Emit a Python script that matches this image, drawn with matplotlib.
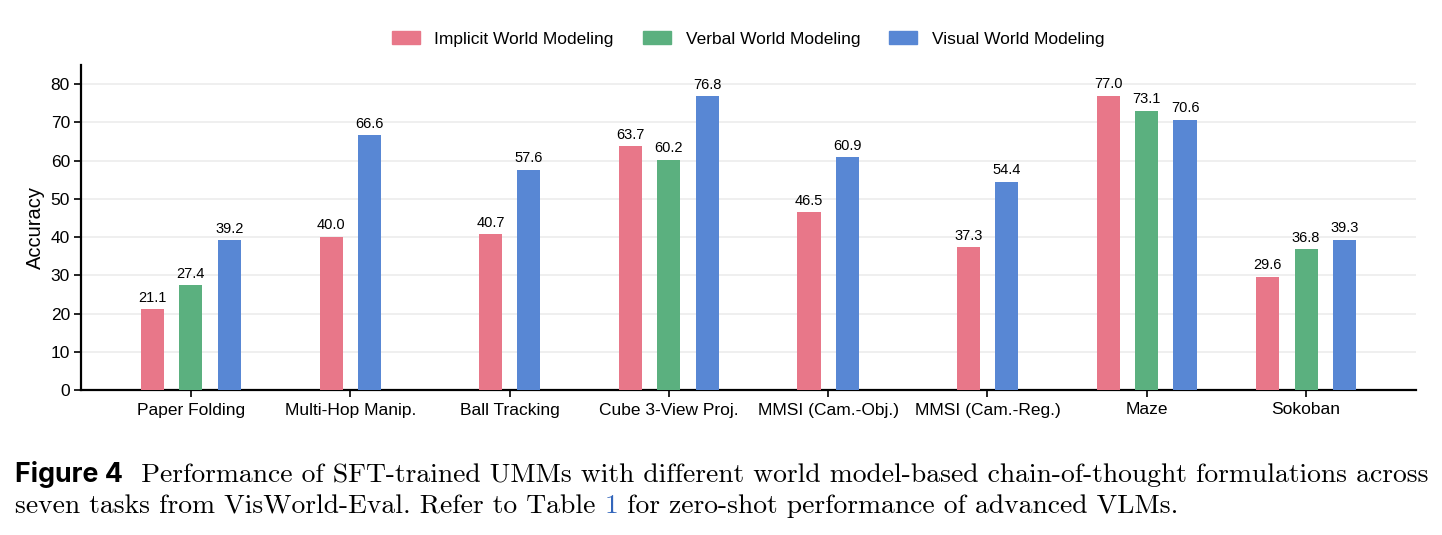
import matplotlib
matplotlib.use("Agg")
import matplotlib.pyplot as plt
import numpy as np

categories = ["Paper Folding", "Multi-Hop Manip.", "Ball Tracking", "Cube 3-View Proj.",
              "MMSI (Cam.-Obj.)", "MMSI (Cam.-Reg.)", "Maze", "Sokoban"]
series_names = ["Implicit World Modeling", "Verbal World Modeling", "Visual World Modeling"]
implicit = [21.1, 40.0, 40.7, 63.7, 46.5, 37.3, 77.0, 29.6]
verbal = [27.4, None, None, 60.2, None, None, 73.1, 36.8]
visual = [39.2, 66.6, 57.6, 76.8, 60.9, 54.4, 70.6, 39.3]
colors = ["#E87789", "#5BB07F", "#5887D4"]
yticks = [0, 10, 20, 30, 40, 50, 60, 70, 80]

plt.rcParams['font.family'] = ['Liberation Sans', 'DejaVu Sans']

fig = plt.figure(figsize=(14.42, 5.35), dpi=100)
ax = fig.add_axes([81/1442, 1-390/535, (1416-81)/1442, (390-65)/535])

width = 0.145
step = 0.24
series = [implicit, verbal, visual]
for i in range(len(categories)):
    present = [s for s in range(3) if series[s][i] is not None]
    n = len(present)
    for k, s in enumerate(present):
        x = i + (k - (n - 1) / 2) * step
        v = series[s][i]
        ax.bar(x, v, width, color=colors[s], zorder=3)
        ax.text(x, v + 1.2, f"{v:.1f}", ha="center", va="bottom", fontsize=10.5, zorder=4)

handles = [plt.Rectangle((0, 0), 1, 1, color=colors[s]) for s in range(3)]

ax.set_xlim(-0.69, 7.69)
ax.set_ylim(0, 85)
ax.set_yticks(yticks)
ax.set_xticks(range(len(categories)))
ax.set_xticklabels(categories, fontsize=12.5)
ax.tick_params(axis="y", labelsize=12.5, length=5, width=1.2, pad=3)
ax.tick_params(axis="x", length=5, width=1.2, pad=4)
ax.set_ylabel("Accuracy", fontsize=14.5, labelpad=4)
ax.yaxis.grid(True, color="#ececec", linewidth=1.2, zorder=0)
ax.set_axisbelow(True)
for sp in ["top", "right"]:
    ax.spines[sp].set_visible(False)
for sp in ["left", "bottom"]:
    ax.spines[sp].set_linewidth(1.6)

fig.legend(handles, series_names, loc="center", bbox_to_anchor=(748/1442, 1-39/535),
           ncol=3, frameon=False, fontsize=12.5, handlelength=1.6, handleheight=0.7,
           columnspacing=1.67, handletextpad=0.86)

# caption
cap_fs = 19.85
y1 = 1 - 482/535
y2 = 1 - 513/535
serif = ["cmr10", "DejaVu Serif"]
t1 = fig.text(15/1442, y1, "Figure 4", fontsize=19.3, fontweight="bold",
              family=["Inter", "DejaVu Sans"], va="baseline")
fig.canvas.draw()
t2 = ax.annotate("  Performance of SFT-trained UMMs with different world model-based chain-of-thought formulations across",
                 xy=(1, y1), xycoords=(t1, "figure fraction"), va="baseline", ha="left",
                 fontsize=cap_fs, family=serif, annotation_clip=False)
t3 = fig.text(15/1442, y2, "seven tasks from VisWorld-Eval. Refer to Table ", fontsize=cap_fs,
              family=serif, va="baseline")
t4 = ax.annotate("1", xy=(1, y2), xycoords=(t3, "figure fraction"), va="baseline", ha="left",
                 fontsize=cap_fs, family=serif, color="#3366BB", annotation_clip=False)
t5 = ax.annotate(" for zero-shot performance of advanced VLMs.", xy=(1, y2),
                 xycoords=(t4, "figure fraction"), va="baseline", ha="left",
                 fontsize=cap_fs, family=serif, annotation_clip=False)

fig.savefig("out.png", dpi=100)
